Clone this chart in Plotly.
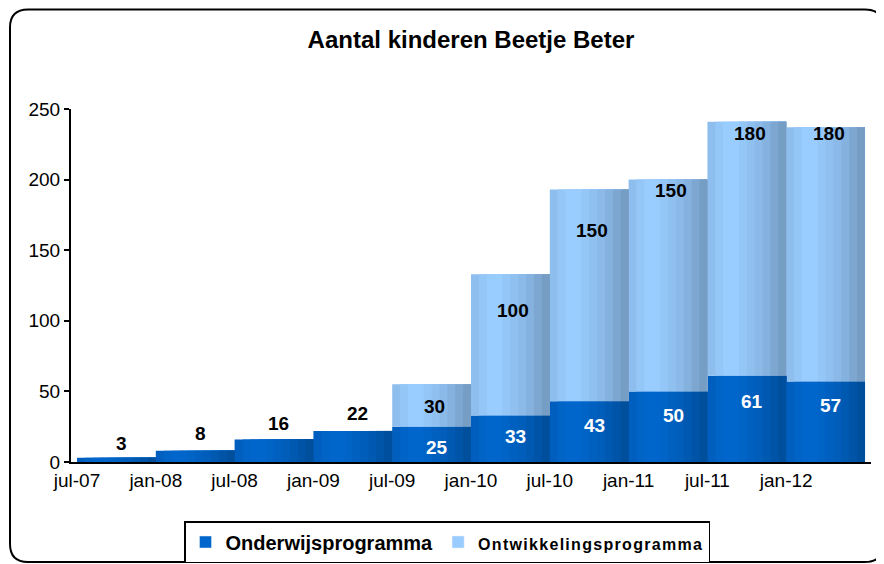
import plotly.graph_objects as go

# ---- data ----
periods = ["jul-07", "jan-08", "jul-08", "jan-09", "jul-09",
           "jan-10", "jul-10", "jan-11", "jul-11", "jan-12"]
onderwijs = [3, 8, 16, 22, 25, 33, 43, 50, 61, 57]
ontwikkeling = [0, 0, 0, 0, 30, 100, 150, 150, 180, 180]

# label placement (value units) as in the original chart
onderwijs_label_y = [13, 20.5, 27, 34, 10, 18, 26, 33, 43, 40]
ontwikkeling_label_y = [None, None, None, None, 39, 107, 164, 192, 233, 233]

FONT = "Liberation Sans, Arial, sans-serif"
x = list(range(len(periods)))

dark_base = (0, 102, 204)
light_base = (153, 204, 255)
profile = [0.93, 0.97, 1.0, 1.0, 0.97, 0.94, 0.91, 0.87, 0.82, 0.77]
N = len(profile)


def shade(base, f):
    return "rgb(%d,%d,%d)" % tuple(min(255, round(c * f)) for c in base)


fig = go.Figure()
for k, f in enumerate(profile):
    w = 1.0 - k / N
    fig.add_trace(go.Bar(
        x=x, y=onderwijs, base=[0] * len(x), width=w,
        offset=-0.5 + k / N, marker=dict(color=shade(dark_base, f), line=dict(width=0)),
        showlegend=False, hoverinfo="skip"))
    fig.add_trace(go.Bar(
        x=x, y=ontwikkeling, base=onderwijs, width=w,
        offset=-0.5 + k / N, marker=dict(color=shade(light_base, f), line=dict(width=0)),
        showlegend=False, hoverinfo="skip"))

# legend entries
fig.add_trace(go.Bar(x=[None], y=[None], name="<b>Onderwijsprogramma</b>",
                     marker=dict(color="rgb(0,102,204)"), showlegend=True))
fig.add_trace(go.Bar(x=[None], y=[None],
                     name="<span style='font-size:16px;letter-spacing:1.3px'><b>Ontwikkelingsprogramma</b></span>",
                     marker=dict(color="rgb(153,204,255)"), showlegend=True))

annotations = []
for i in x:
    ly = onderwijs_label_y[i]
    inside = ly < onderwijs[i]
    annotations.append(dict(x=i, y=ly, xref="x", yref="y", text="<b>%d</b>" % onderwijs[i],
                            showarrow=False, xshift=5,
                            font=dict(family=FONT, size=19, color="white" if inside else "black")))
    if ontwikkeling[i] > 0:
        annotations.append(dict(x=i, y=ontwikkeling_label_y[i], xref="x", yref="y",
                                text="<b>%d</b>" % ontwikkeling[i], showarrow=False, xshift=3,
                                font=dict(family=FONT, size=19, color="black")))

# the page body adds an 8px margin; figure coords = screen coords - 8
OFF = 8
W, H = 884 - OFF, 564 - OFF
PL, PR, PT, PB = 71, 871, 109, 462  # plot area in screen pixels


def px(xp):
    return (xp - PL) / float(PR - PL)


def py(yp):
    return (PB - yp) / float(PB - PT)


L, R, T, B, r = 10, 883, 9.5, 562, 18
path = ("M %f,%f L %f,%f Q %f,%f %f,%f L %f,%f Q %f,%f %f,%f L %f,%f Q %f,%f %f,%f "
        "L %f,%f Q %f,%f %f,%f Z") % (
    px(L + r), py(T), px(R - r), py(T), px(R), py(T), px(R), py(T + r),
    px(R), py(B - r), px(R), py(B), px(R - r), py(B),
    px(L + r), py(B), px(L), py(B), px(L), py(B - r),
    px(L), py(T + r), px(L), py(T), px(L + r), py(T))

fig.update_layout(
    width=W, height=H,
    paper_bgcolor="white", plot_bgcolor="white",
    margin=dict(l=PL - OFF, r=W - (PR - OFF), t=PT - OFF, b=H - (PB - OFF), autoexpand=False),
    barmode="overlay",
    title=dict(text="<b>Aantal kinderen Beetje Beter</b>", x=0.5, xref="paper",
               xanchor="center", yref="container", y=1 - (40 - OFF) / H, yanchor="middle",
               font=dict(family=FONT, size=24, color="black")),
    font=dict(family=FONT, size=19, color="black"),
    xaxis=dict(range=[-0.576, 9.576], tickmode="array",
               tickvals=[i - 0.5 for i in x], ticktext=periods,
               showline=True, linecolor="black", linewidth=2, ticks="",
               showgrid=False, zeroline=False,
               tickfont=dict(family=FONT, size=19, color="black")),
    yaxis=dict(range=[0, 250], tickvals=[0, 50, 100, 150, 200, 250],
               showline=True, linecolor="black", linewidth=2, ticks="outside",
               ticklen=5, tickwidth=1.5, tickcolor="black",
               showgrid=False, zeroline=False,
               tickfont=dict(family=FONT, size=19, color="black")),
    legend=dict(orientation="h", x=0.47, xanchor="center", y=py(521), yanchor="top",
                bordercolor="black", borderwidth=1.5, bgcolor="white",
                font=dict(family=FONT, size=20, color="black"),
                itemwidth=30, traceorder="normal"),
    annotations=annotations,
    shapes=[dict(type="path", path=path, xref="paper", yref="paper",
                 line=dict(color="black", width=2), fillcolor="rgba(0,0,0,0)", layer="above")],
)

fig.write_html("out.html")
